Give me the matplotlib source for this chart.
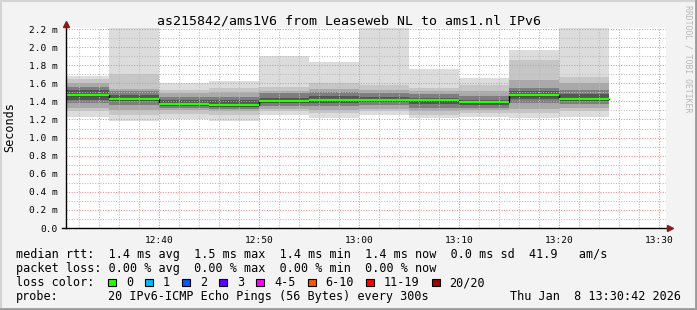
import matplotlib

matplotlib.use("Agg")
import matplotlib.pyplot as plt
from matplotlib.patches import Rectangle
from matplotlib.ticker import FixedLocator, MultipleLocator

# -----------------------------
#   DATA
# -----------------------------
# each smoke round lasts 5 minutes; value = minutes after 12:00 when it ends
round_end = [35, 40, 45, 50, 55, 60, 65, 70, 75, 80, 85]

# sorted ping times per round (ms), outermost pings first
ping_min = [1.23, 1.18, 1.21, 1.18, 1.25, 1.22, 1.25, 1.22, 1.23, 1.22, 1.23]
ping_q1 = [1.29, 1.25, 1.26, 1.25, 1.29, 1.27, 1.29, 1.25, 1.27, 1.27, 1.29]
ping_q2 = [1.33, 1.30, 1.30, 1.29, 1.32, 1.31, 1.32, 1.29, 1.30, 1.32, 1.33]
ping_q3 = [1.38, 1.36, 1.33, 1.32, 1.35, 1.35, 1.36, 1.33, 1.33, 1.38, 1.37]
ping_q4 = [1.42, 1.40, 1.35, 1.34, 1.38, 1.38, 1.39, 1.37, 1.36, 1.43, 1.40]
median = [1.47, 1.43, 1.37, 1.36, 1.40, 1.42, 1.41, 1.41, 1.39, 1.47, 1.43]
ping_q6 = [1.53, 1.47, 1.41, 1.41, 1.44, 1.46, 1.45, 1.44, 1.42, 1.51, 1.48]
ping_q7 = [1.56, 1.51, 1.45, 1.45, 1.49, 1.50, 1.49, 1.48, 1.46, 1.55, 1.53]
ping_q8 = [1.60, 1.54, 1.49, 1.50, 1.52, 1.54, 1.53, 1.51, 1.51, 1.64, 1.60]
ping_q9 = [1.65, 1.70, 1.53, 1.55, 1.56, 1.60, 1.58, 1.55, 1.58, 1.86, 1.67]
ping_max = [1.68, 2.30, 1.60, 1.63, 1.90, 1.84, 2.30, 1.76, 1.66, 1.97, 2.30]

y_ticks = [0.0, 0.2, 0.4, 0.6, 0.8, 1.0, 1.2, 1.4, 1.6, 1.8, 2.0, 2.2]
x_ticks = [40, 50, 60, 70, 80, 90]
x_labels = ["12:40", "12:50", "13:00", "13:10", "13:20", "13:30"]

title = "as215842/ams1V6 from Leaseweb NL to ams1.nl IPv6"
rtt_stats = ["1.4 ms avg", "1.5 ms max", "1.4 ms min", "1.4 ms now", "0.0 ms sd", "41.9   am/s"]
loss_stats = ["0.00 % avg", "0.00 % max", "0.00 % min", "0.00 % now"]
loss_labels = ["0", "1", "2", "3", "4-5", "6-10", "11-19", "20/20"]
loss_colors = ["#26ff00", "#00b8ff", "#0059ff", "#5e00ff", "#ff00ff", "#ff5500", "#ff0000", "#a10000"]
probe_text = "20 IPv6-ICMP Echo Pings (56 Bytes) every 300s"
stamp = "Thu Jan  8 13:30:42 2026"

# -----------------------------
#   FIGURE
# -----------------------------
W, H = 697, 310
MONO = "DejaVu Sans Mono"


def px(x, y):
    # pixel position (from top-left) to figure fraction
    return x / W, 1 - y / H


fig = plt.figure(figsize=(W / 100, H / 100), dpi=100, facecolor="#f3f3f3")
ax = fig.add_axes([66 / W, (H - 228) / H, 600 / W, 200 / H])
ax.set_facecolor("white")

# smoke bands, outer (light) to inner (dark)
starts = [e - 5 for e in round_end]
lows = [ping_min, ping_q1, ping_q2, ping_q3, ping_q4]
highs = [ping_max, ping_q9, ping_q8, ping_q7, ping_q6]
shades = ["#dcdcdc", "#c6c6c6", "#a9a9a9", "#7e7e7e", "#555555"]
for lo, hi, shade in zip(lows, highs, shades):
    ax.bar(starts, [h - l for h, l in zip(hi, lo)], bottom=lo, width=5, align="edge",
           color=shade, linewidth=0, zorder=1)

# median line: black steps with the green loss colour on top
ax.step(starts + [round_end[-1]], median + [median[-1]], where="post", color="black", lw=1.0, zorder=4)
ax.hlines(median, starts, round_end, color=loss_colors[0], lw=1.6, zorder=5)

ax.set_xlim(30.7, 90.7)
ax.set_ylim(0, 200 / 90.45)

# grid: grey minor, red major, drawn over the smoke
ax.xaxis.set_major_locator(FixedLocator(x_ticks))
ax.xaxis.set_minor_locator(MultipleLocator(2))
ax.yaxis.set_major_locator(FixedLocator(y_ticks))
ax.yaxis.set_minor_locator(MultipleLocator(0.1))
ax.set_axisbelow(False)
ax.grid(which="minor", color="#bdbdbd", lw=0.75, linestyle=(0, (1, 1.5)), zorder=2)
ax.grid(which="major", color="#f08c8c", lw=0.75, linestyle=(0, (1, 1.5)), zorder=3)

ax.set_xticks(x_ticks)
ax.set_xticklabels(x_labels, family=MONO, fontsize=6.8)
ax.set_yticks(y_ticks)
ax.set_yticklabels(["0.0" if v == 0 else "%.1f m" % v for v in y_ticks], family=MONO, fontsize=6.8)
ax.tick_params(which="both", length=0)
ax.tick_params(axis="x", pad=6)
ax.tick_params(axis="y", pad=6)

for s in ax.spines.values():
    s.set_visible(False)

# axis lines with arrow heads
ax.plot([-4 / 600, 602 / 600], [0, 0], color="black", lw=1, transform=ax.transAxes, clip_on=False, zorder=6)
ax.plot([0, 0], [0, 202 / 200], color="black", lw=1, transform=ax.transAxes, clip_on=False, zorder=6)
ax.plot([604 / 600], [0], marker=">", ms=4.5, color="#8b1a1a", transform=ax.transAxes, clip_on=False, zorder=7)
ax.plot([0], [204 / 200], marker="^", ms=4.5, color="#8b1a1a", transform=ax.transAxes, clip_on=False, zorder=7)

# -----------------------------
#   TEXTS
# -----------------------------
fig.text(*px(349, 24), title, family=MONO, fontsize=9.5, ha="center", va="baseline")
fig.text(*px(10, 127), "Seconds", family=MONO, fontsize=8.5, rotation=90, ha="center", va="center")
fig.text(*px(688, 5), "RRDTOOL / TOBI OETIKER", family=MONO, fontsize=5.9, rotation=-90,
         ha="center", va="top", color="#b8b8b8")

fig.text(*px(16, 258), "median rtt:  " + "  ".join(rtt_stats), family=MONO, fontsize=8.5, va="baseline")
fig.text(*px(16, 272), "packet loss: " + "  ".join(loss_stats), family=MONO, fontsize=8.5, va="baseline")
fig.text(*px(16, 286), "loss color:", family=MONO, fontsize=8.5, va="baseline")
fig.text(*px(16, 300), "probe:", family=MONO, fontsize=8.5, va="baseline")
fig.text(*px(108, 300), probe_text, family=MONO, fontsize=8.5, va="baseline")
fig.text(*px(681, 300), stamp, family=MONO, fontsize=8.5, va="baseline", ha="right")

# loss colour legend boxes
bx = 108
for lab, col in zip(loss_labels, loss_colors):
    x0, y0 = px(bx, 286)
    fig.patches.append(Rectangle((x0, y0), 8 / W, 7 / H, transform=fig.transFigure,
                                 facecolor=col, edgecolor="black", lw=0.8))
    fig.text(*px(bx + 18, 286), lab, family=MONO, fontsize=8.5, va="baseline")
    bx = bx + 18 + len(lab) * 7.1 + 12

# frame around the image
fig.add_artist(plt.Line2D([0, 1], [1 - 0.5 / H, 1 - 0.5 / H], color="#d4d4d4", lw=1.5, transform=fig.transFigure))
fig.add_artist(plt.Line2D([0.5 / W, 0.5 / W], [0, 1], color="#d4d4d4", lw=1.5, transform=fig.transFigure))
fig.add_artist(plt.Line2D([0, 1], [1 / H, 1 / H], color="#9a9a9a", lw=2, transform=fig.transFigure))
fig.add_artist(plt.Line2D([1 - 1 / W, 1 - 1 / W], [0, 1], color="#9a9a9a", lw=2, transform=fig.transFigure))

fig.savefig("out.png", dpi=100, facecolor=fig.get_facecolor())
